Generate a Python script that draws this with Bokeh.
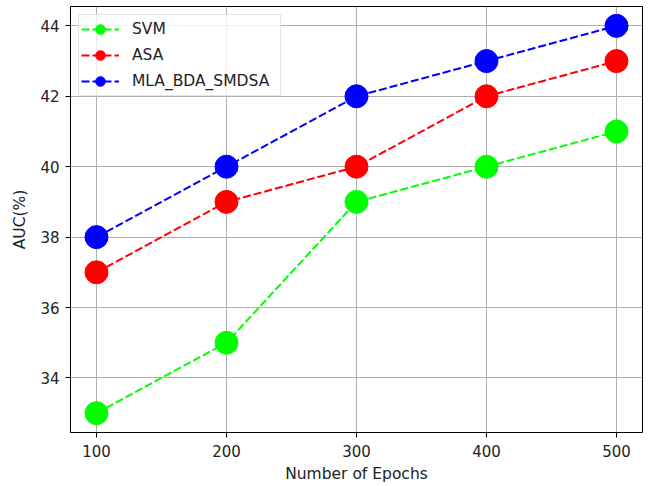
from bokeh.plotting import figure
from bokeh.models import Range1d, FixedTicker, Legend, LegendItem
from bokeh.embed import file_html
from bokeh.resources import INLINE

epochs = [100, 200, 300, 400, 500]
svm = [33, 35, 39, 40, 41]
asa = [37, 39, 40, 42, 43]
mla = [38, 40, 42, 43, 44]
x_ticks = [100, 200, 300, 400, 500]
y_ticks = [34, 36, 38, 40, 42, 44]

series = [("SVM", svm, "#00ff00"), ("ASA", asa, "#ff0000"), ("MLA_BDA_SMDSA", mla, "#0000ff")]

p = figure(width=652, height=486, output_backend="svg", toolbar_location=None,
           x_range=Range1d(80, 520), y_range=Range1d(32.45, 44.55),
           min_border_left=70, min_border_right=10, min_border_top=6, min_border_bottom=54)

font = "DejaVu Sans"
items = []
for name, vals, col in series:
    l = p.line(epochs, vals, line_color=col, line_width=2, line_dash="8 3")
    s = p.scatter(epochs, vals, size=23, fill_color=col, line_color=col)
    items.append(LegendItem(label=name, renderers=[l, s]))

legend = Legend(items=items, location="top_left", label_text_font=font,
                label_text_font_size="15.5px", label_text_color="#222222",
                glyph_width=38, glyph_height=24,
                label_height=24, label_width=146,
                spacing=2, padding=2, margin=8, border_line_color="#cccccc",
                border_line_width=1, background_fill_alpha=0.8, label_standoff=13)
p.add_layout(legend)

p.outline_line_color = "black"
p.outline_line_width = 1
p.grid.grid_line_color = "#b0b0b0"
p.grid.grid_line_width = 1
p.xaxis.ticker = FixedTicker(ticks=x_ticks)
p.yaxis.ticker = FixedTicker(ticks=y_ticks)
for ax in (p.xaxis[0], p.yaxis[0]):
    ax.minor_tick_line_color = None
    ax.major_tick_in = 0
    ax.major_tick_out = 5
    ax.axis_line_color = None
    ax.major_label_text_font = font
    ax.major_label_text_font_size = "15px"
    ax.major_label_text_color = "#222222"
    ax.axis_label_text_font = font
    ax.axis_label_text_font_size = "15.5px"
    ax.axis_label_text_font_style = "normal"
    ax.axis_label_text_color = "#222222"
p.xaxis.axis_label = "Number of Epochs"
p.yaxis.axis_label = "AUC(%)"
p.xaxis.major_label_standoff = 7
p.xaxis.axis_label_standoff = 5
p.yaxis.major_label_standoff = 6
p.yaxis.axis_label_standoff = 8

open("out.html", "w").write(file_html(p, INLINE))
